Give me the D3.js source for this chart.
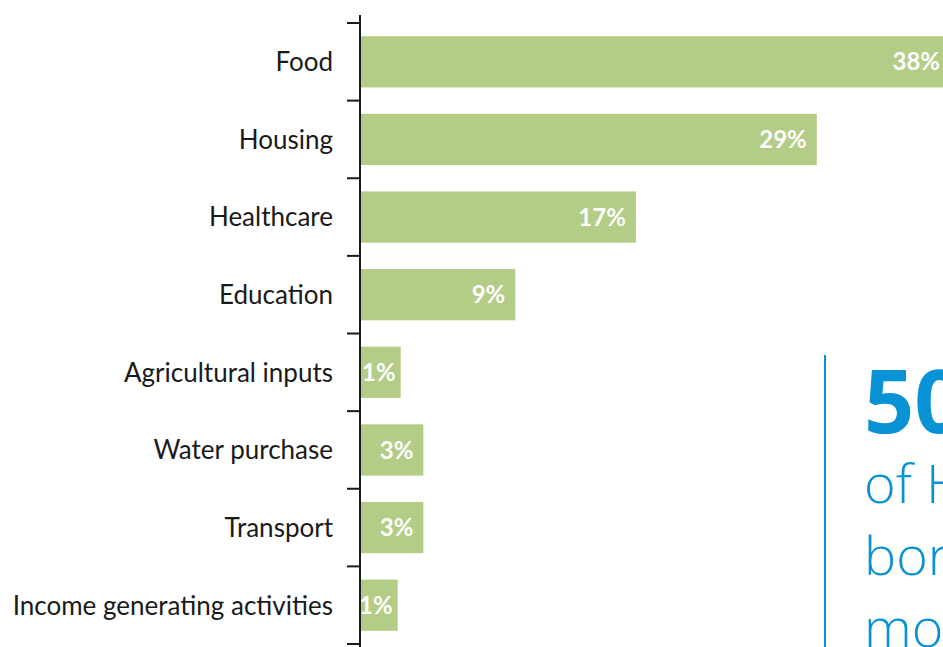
<!DOCTYPE html>
<html>
<head>
<meta charset="utf-8">
<script src="https://cdn.jsdelivr.net/npm/d3@7"></script>
<style>
  body { margin: 0; background: #fff; overflow: hidden; }
</style>
</head>
<body>
<div id="chart"></div>
<script>
// categories, bar values (%) and the printed labels
const categories = ["Food", "Housing", "Healthcare", "Education", "Agricultural inputs",
    "Water purchase", "Transport", "Income generating activities"];
const values = [38, 29, 17, 9, 1.4, 2.9, 2.9, 1.2];
const valueLabels = ["38%", "29%", "17%", "9%", "1%", "3%", "3%", "1%"];
const calloutLines = ["of H", "bor", "mo"];

const width = 943, height = 647;
const barColor = "#b3cc86";
const blue = "#0a93d4";

const svg = d3.select("#chart").append("svg")
    .attr("width", width)
    .attr("height", height);

const x = d3.scaleLinear().domain([-1.3, 38.5]).range([360, 960]);
const y = d3.scaleBand().domain(categories).range([23, 644]).paddingInner(0.34).paddingOuter(0.17);

// bars
svg.selectAll("rect.bar")
    .data(categories)
    .enter().append("rect")
    .attr("class", "bar")
    .attr("x", x(-1.3))
    .attr("y", d => y(d))
    .attr("width", (d, i) => x(values[i]) - x(-1.3))
    .attr("height", y.bandwidth())
    .attr("fill", barColor);

// value labels
svg.selectAll("text.val")
    .data(categories)
    .enter().append("text")
    .attr("class", "val")
    .attr("x", (d, i) => Math.min(x(values[i]), 950) - (values[i] < 2 ? 5 : 10))
    .attr("y", d => y(d) + y.bandwidth() / 2)
    .attr("dy", "0.36em")
    .attr("text-anchor", "end")
    .style("font-family", "Lato, 'Open Sans', sans-serif")
    .style("font-weight", "bold")
    .style("font-size", "24px")
    .style("fill", "#fff")
    .text((d, i) => valueLabels[i]);

// axis: ticks sit between the categories
const step = y.step();
const tickYs = d3.range(categories.length + 1).map(i => 23 + i * step);
svg.append("line")
    .attr("x1", 360).attr("x2", 360)
    .attr("y1", 15).attr("y2", height)
    .attr("stroke", "#1a1a1a")
    .attr("stroke-width", 2);
svg.selectAll("line.tick")
    .data(tickYs)
    .enter().append("line")
    .attr("class", "tick")
    .attr("x1", 347).attr("x2", 360)
    .attr("y1", d => d).attr("y2", d => d)
    .attr("stroke", "#1a1a1a")
    .attr("stroke-width", 2);

// category labels
svg.selectAll("text.cat")
    .data(categories)
    .enter().append("text")
    .attr("class", "cat")
    .attr("x", 333)
    .attr("y", d => y(d) + y.bandwidth() / 2)
    .attr("dy", "0.36em")
    .attr("text-anchor", "end")
    .style("font-family", "Lato, 'Open Sans', sans-serif")
    .style("font-size", "26px")
    .style("fill", "#1a1a1a")
    .text(d => d);

// callout on the right (cut off by the page edge)
svg.append("line")
    .attr("x1", 825).attr("x2", 825)
    .attr("y1", 355).attr("y2", height)
    .attr("stroke", blue)
    .attr("stroke-width", 2);

svg.append("text")
    .attr("x", 864)
    .attr("y", 433)
    .style("font-family", "'Open Sans', sans-serif")
    .style("font-weight", "bold")
    .style("font-size", "88px")
    .style("fill", blue)
    .text("50");

svg.selectAll("text.callout")
    .data(calloutLines)
    .enter().append("text")
    .attr("class", "callout")
    .attr("x", 864)
    .attr("y", (d, i) => 503 + i * 72)
    .style("font-family", "'Open Sans', sans-serif")
    .style("font-weight", 300)
    .style("font-size", "54px")
    .style("fill", blue)
    .text(d => d);
</script>
</body>
</html>
